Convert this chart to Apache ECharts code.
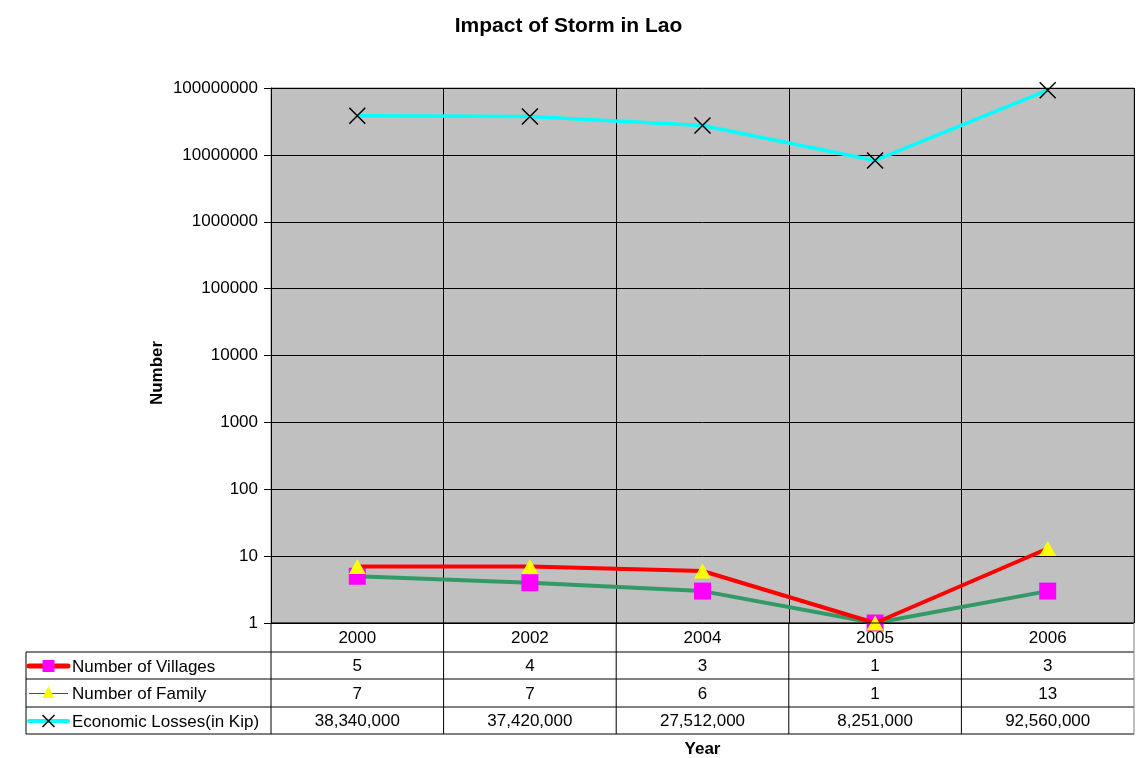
<!DOCTYPE html>
<html>
<head>
<meta charset="utf-8">
<script src="https://cdn.jsdelivr.net/npm/echarts@6/dist/echarts.min.js"></script>
<style>
  html, body { margin: 0; padding: 0; background: #fff; }
  #chart { width: 1137px; height: 758px; }
</style>
</head>
<body>
<div id="chart"></div>
<script>
// Storm impact by year
const years = ['2000', '2002', '2004', '2005', '2006'];
const villages = [5, 4, 3, 1, 3];
const families = [7, 7, 6, 1, 13];
const losses = [38340000, 37420000, 27512000, 8251000, 92560000];
const seriesNames = ['Number of Villages', 'Number of Family', 'Economic Losses(in Kip)'];

const FONT = '"Liberation Sans", Arial, sans-serif';
const CROSS = 'path://M0,0L10,10M10,0L0,10';

// Plot area layout
const GRID = { left: 271, right: 3, top: 88, bottom: 135 };
const ROW_EDGES = [623, 652, 679, 707, 734];  // data table horizontal rules
const TABLE_LEFT = 26;

const chart = echarts.init(document.getElementById('chart'), null, { renderer: 'canvas' });

const option = {
  animation: false,
  backgroundColor: '#ffffff',
  title: {
    text: 'Impact of Storm in Lao',
    left: 'center',
    top: 11,
    textStyle: { fontFamily: FONT, fontSize: 21, fontWeight: 'bold', color: '#000' }
  },
  grid: {
    left: GRID.left, right: GRID.right, top: GRID.top, bottom: GRID.bottom,
    show: true, backgroundColor: '#c0c0c0', borderColor: '#808080', borderWidth: 1
  },
  xAxis: {
    type: 'category',
    data: years,
    boundaryGap: true,
    axisLine: { show: false },
    axisTick: { show: false },
    axisLabel: { show: false },
    splitLine: { show: true, lineStyle: { color: '#000', width: 1 } }
  },
  yAxis: {
    type: 'log',
    logBase: 10,
    min: 1,
    max: 100000000,
    axisLine: { show: true, lineStyle: { color: '#000', width: 1 } },
    axisTick: { show: true, length: 7, lineStyle: { color: '#000' } },
    axisLabel: {
      fontFamily: FONT, fontSize: 17, color: '#000', margin: 13,
      formatter: v => String(Math.round(v))
    },
    splitLine: { show: true, lineStyle: { color: '#000', width: 1 } }
  },
  series: [
    {
      name: seriesNames[0],
      type: 'line',
      data: villages,
      symbol: 'rect',
      symbolSize: 17,
      lineStyle: { color: '#339966', width: 4 },
      itemStyle: { color: '#ff00ff' },
      z: 3
    },
    {
      name: seriesNames[1],
      type: 'line',
      data: families,
      symbol: 'triangle',
      symbolSize: [17, 15],
      lineStyle: { color: '#ff0000', width: 4 },
      itemStyle: { color: '#ffff00' },
      z: 4
    },
    {
      name: seriesNames[2],
      type: 'line',
      data: losses,
      symbol: CROSS,
      symbolSize: 16,
      lineStyle: { color: '#00ffff', width: 3.5 },
      itemStyle: { color: 'transparent', borderColor: '#000', borderWidth: 1.5 },
      z: 5
    }
  ]
};

chart.setOption(option);

// Data table beneath the plot: year header, then one row per series
function buildTable() {
  const centers = years.map((y, i) => chart.convertToPixel({ xAxisIndex: 0 }, i));
  const step = centers.length > 1 ? centers[1] - centers[0] : 172;
  const plotLeft = centers[0] - step / 2;
  const plotRight = centers[centers.length - 1] + step / 2;
  const els = [];
  const line = (x1, y1, x2, y2, color) => els.push({
    type: 'line', silent: true, z: 10,
    shape: { x1, y1, x2, y2 },
    style: { stroke: color || '#000', lineWidth: 1 }
  });
  const text = (x, y, s, align) => els.push({
    type: 'text', silent: true, z: 11,
    x, y,
    style: {
      text: s, fontFamily: FONT, fontSize: 17, fill: '#000',
      align: align || 'center', verticalAlign: 'middle'
    }
  });

  // outer rules
  line(plotLeft, ROW_EDGES[0], plotRight, ROW_EDGES[0]);
  for (let r = 1; r < ROW_EDGES.length; r++) {
    line(TABLE_LEFT, ROW_EDGES[r], plotRight, ROW_EDGES[r]);
  }
  line(TABLE_LEFT, ROW_EDGES[1], TABLE_LEFT, ROW_EDGES[4]);
  line(plotLeft, ROW_EDGES[0], plotLeft, ROW_EDGES[4]);
  for (let i = 1; i < years.length; i++) {
    const x = plotLeft + step * i;
    line(x, ROW_EDGES[0], x, ROW_EDGES[4]);
  }
  line(plotRight, ROW_EDGES[0], plotRight, ROW_EDGES[4], '#808080');

  // cell values
  const rows = [villages, families, losses];
  years.forEach((y, i) => {
    text(centers[i], (ROW_EDGES[0] + ROW_EDGES[1]) / 2 + 1, y);
    rows.forEach((vals, r) => {
      text(centers[i], (ROW_EDGES[r + 1] + ROW_EDGES[r + 2]) / 2 + 1,
        vals[i].toLocaleString('en-US'));
    });
  });

  // legend keys
  const kx1 = 29, kx2 = 68, kc = (kx1 + kx2) / 2;
  const rowMid = r => Math.round((ROW_EDGES[r + 1] + ROW_EDGES[r + 2]) / 2);
  let y = rowMid(0);
  els.push({ type: 'line', silent: true, z: 11, shape: { x1: kx1, y1: y, x2: kx2, y2: y },
    style: { stroke: '#ff0000', lineWidth: 5, lineCap: 'round' } });
  els.push({ type: 'rect', silent: true, z: 12, shape: { x: kc - 6, y: y - 6, width: 12, height: 12 },
    style: { fill: '#ff00ff' } });
  y = rowMid(1);
  els.push({ type: 'rect', silent: true, z: 11, shape: { x: kx1, y: y, width: kx2 - kx1, height: 1 },
    style: { fill: '#ff0000' } });
  els.push({ type: 'polygon', silent: true, z: 12,
    shape: { points: [[kc, y - 7], [kc + 6, y + 5], [kc - 6, y + 5]] },
    style: { fill: '#ffff00' } });
  y = rowMid(2);
  els.push({ type: 'line', silent: true, z: 11, shape: { x1: kx1, y1: y, x2: kx2, y2: y },
    style: { stroke: '#00ffff', lineWidth: 4, lineCap: 'round' } });
  els.push({ type: 'polyline', silent: true, z: 12,
    shape: { points: [[kc - 6, y - 6], [kc + 6, y + 6]] },
    style: { stroke: '#000', lineWidth: 1.5, fill: null } });
  els.push({ type: 'polyline', silent: true, z: 12,
    shape: { points: [[kc + 6, y - 6], [kc - 6, y + 6]] },
    style: { stroke: '#000', lineWidth: 1.5, fill: null } });
  seriesNames.forEach((n, r) => text(72, rowMid(r) + 1, n, 'left'));

  // axis titles
  els.push({
    type: 'text', silent: true, z: 11,
    x: (plotLeft + plotRight) / 2, y: 749,
    style: { text: 'Year', fontFamily: FONT, fontSize: 17, fontWeight: 'bold', fill: '#000',
      align: 'center', verticalAlign: 'middle' }
  });
  els.push({
    type: 'text', silent: true, z: 11,
    x: 157, y: 373, rotation: Math.PI / 2,
    style: { text: 'Number', fontFamily: FONT, fontSize: 17, fontWeight: 'bold', fill: '#000',
      align: 'center', verticalAlign: 'middle' }
  });

  chart.setOption({ graphic: { elements: els } });
}

buildTable();
</script>
</body>
</html>
